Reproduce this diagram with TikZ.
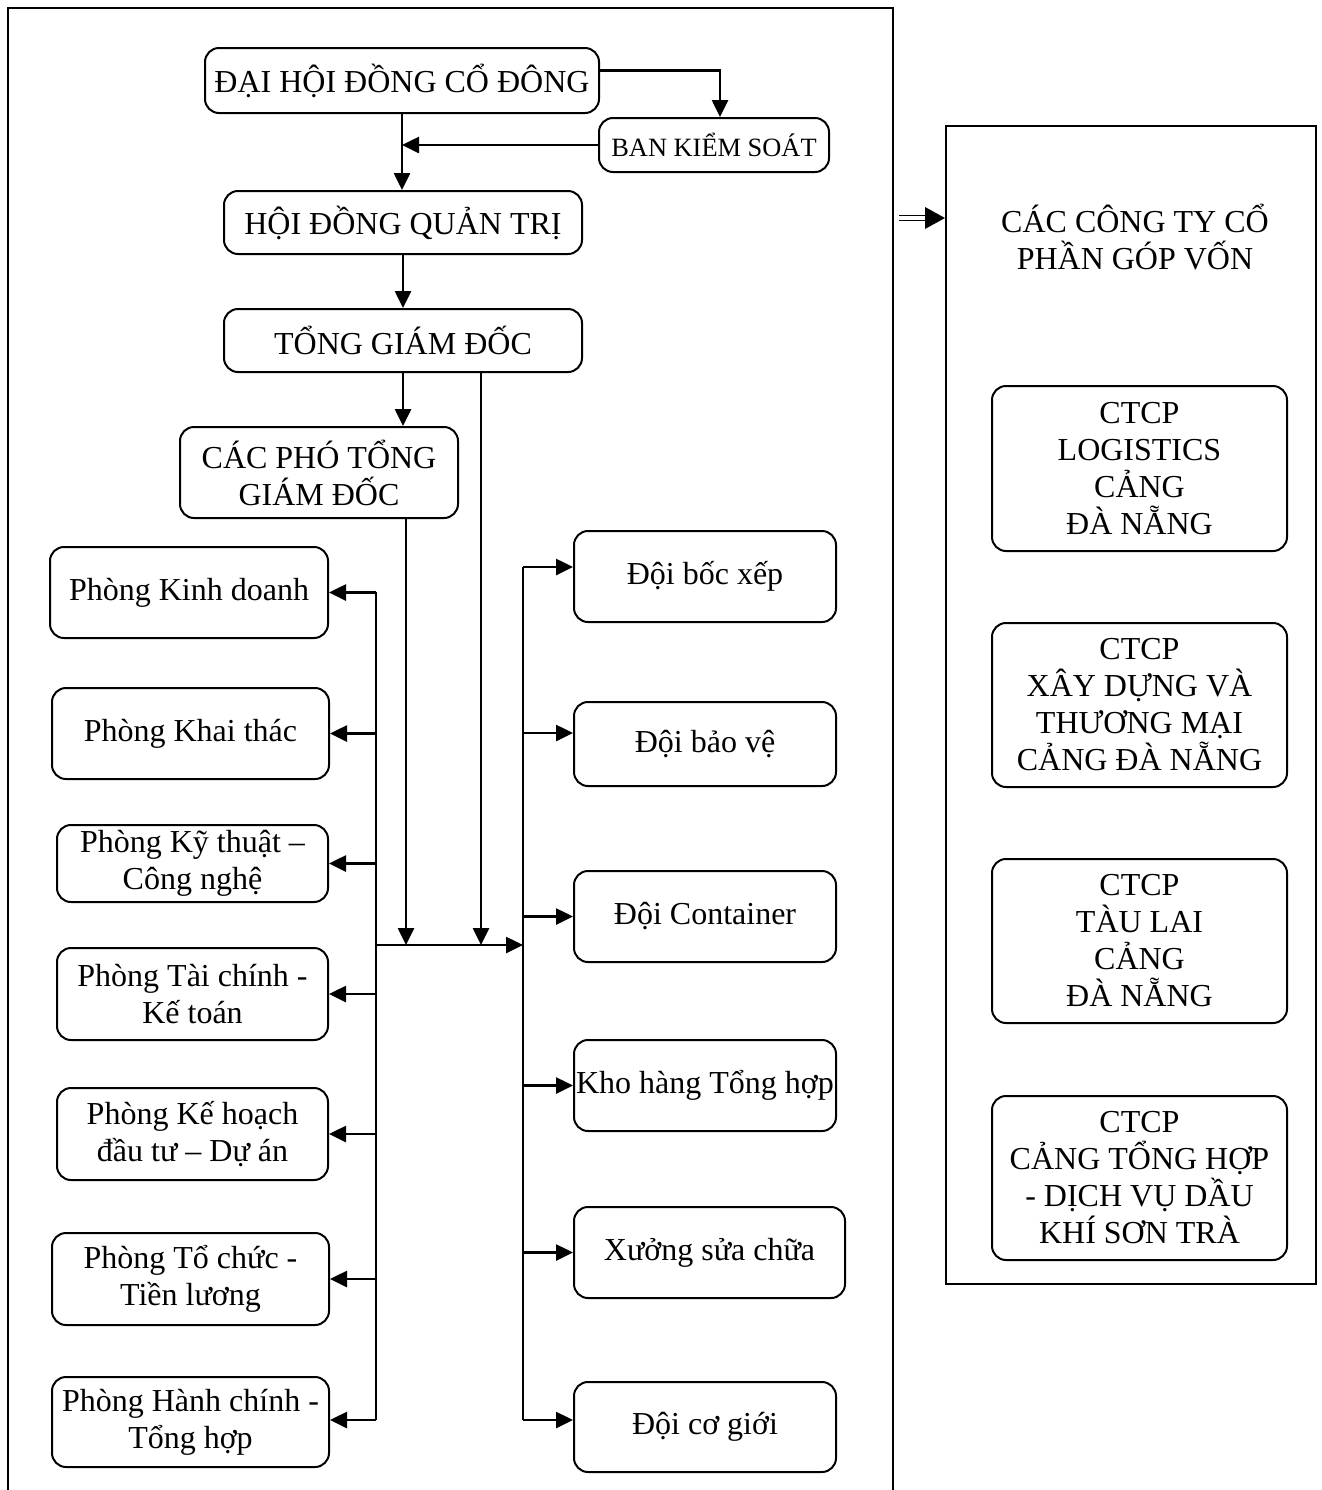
\documentclass[tikz,border=0pt]{standalone}
\usepackage{fontspec}
\setmainfont{Liberation Serif}
\usetikzlibrary{arrows.meta}
\begin{document}
\begin{tikzpicture}[x=0.5pt,y=-0.5pt,
  box/.style={draw, line width=1pt, rounded corners=7pt, inner sep=0pt, align=center,
    font=\fontsize{16}{18.5}\selectfont},
  arr/.style={line width=1.3pt, -{Triangle[length=8.5pt,width=8pt]}},
  ln/.style={line width=1.3pt},
  frame/.style={line width=1pt}]
\useasboundingbox (0,0) rectangle (1322,1490);
% outer left frame
\draw[frame] (8,1490) -- (8,8) -- (893,8) -- (893,1490);
% top chain
\node[box, minimum width=197pt, minimum height=32.5pt] (dh) at (402,80.5) {ĐẠI HỘI ĐỒNG CỔ ĐÔNG};
\node[box, minimum width=115pt, minimum height=27pt, font=\fontsize{13.2}{15}\selectfont] (bks) at (714,145) {BAN KIỂM SOÁT};
\node[box, minimum width=179pt, minimum height=31.5pt] (hd) at (403,222.5) {HỘI ĐỒNG QUẢN TRỊ};
\node[box, minimum width=179pt, minimum height=31.5pt] (tgd) at (403,340.5) {TỔNG GIÁM ĐỐC};
\node[box, minimum width=139pt, minimum height=45.5pt] (pho) at (319,472.5) {CÁC PHÓ TỔNG\\GIÁM ĐỐC};
% left departments
\node[box, minimum width=139pt, minimum height=45.5pt] (p1) at (189,592.5) {Phòng Kinh doanh};
\node[box, minimum width=138.5pt, minimum height=45.5pt] (p2) at (190.5,733.5) {Phòng Khai thác};
\node[box, minimum width=135.5pt, minimum height=38.5pt] (p3) at (192.5,863.5) {Phòng Kỹ thuật –\\Công nghệ};
\node[box, minimum width=135.5pt, minimum height=46pt] (p4) at (192.5,994) {Phòng Tài chính -\\Kế toán};
\node[box, minimum width=135.5pt, minimum height=46pt] (p5) at (192.5,1134) {Phòng Kế hoạch\\đầu tư – Dự án};
\node[box, minimum width=138.5pt, minimum height=46pt] (p6) at (190.5,1279) {Phòng Tổ chức -\\Tiền lương};
\node[box, minimum width=138.5pt, minimum height=45pt] (p7) at (190.5,1422) {Phòng Hành chính -\\Tổng hợp};
% right units
\node[box, minimum width=131pt, minimum height=45.5pt] (d1) at (705,576.5) {Đội bốc xếp};
\node[box, minimum width=131pt, minimum height=42pt] (d2) at (705,744) {Đội bảo vệ};
\node[box, minimum width=131pt, minimum height=45.5pt] (d3) at (705,916.5) {Đội Container};
\node[box, minimum width=131pt, minimum height=45.5pt] (d4) at (705,1085.5) {Kho hàng Tổng hợp};
\node[box, minimum width=135.5pt, minimum height=45.5pt] (d5) at (709.5,1252.5) {Xưởng sửa chữa};
\node[box, minimum width=131pt, minimum height=45pt] (d6) at (705,1427) {Đội cơ giới};
% right frame
\node[draw, frame, minimum width=185pt, minimum height=579pt, inner sep=0pt] (rf) at (1131,705) {};
\node[align=center, font=\fontsize{16}{18.5}\selectfont] (tt) at (1135,237.5) {CÁC CÔNG TY CỔ\\PHẦN GÓP VỐN};
\node[box, minimum width=147.5pt, minimum height=82.5pt] (c1) at (1139.5,468.5) {CTCP\\LOGISTICS\\CẢNG\\ĐÀ NẴNG};
\node[box, minimum width=147.5pt, minimum height=82pt] (c2) at (1139.5,705) {CTCP\\XÂY DỰNG VÀ\\THƯƠNG MẠI\\CẢNG ĐÀ NẴNG};
\node[box, minimum width=147.5pt, minimum height=82pt] (c3) at (1139.5,941) {CTCP\\TÀU LAI\\CẢNG\\ĐÀ NẴNG};
\node[box, minimum width=147.5pt, minimum height=82pt] (c4) at (1139.5,1178) {CTCP\\CẢNG TỔNG HỢP\\- DỊCH VỤ DẦU\\KHÍ SƠN TRÀ};
% coordinates
\coordinate (lv) at (376,592);
\coordinate (lvb) at (376,1420);
\coordinate (rv) at (523,567);
\coordinate (rvb) at (523,1420);
\coordinate (h0) at (376,945);
\coordinate (h1) at (406,945);
\coordinate (h2) at (481,945);
\coordinate (h3) at (523,945);
\coordinate (da) at (899,218);
\coordinate (db) at (925,218);
% top connectors
\draw[arr] ([yshift=5pt]dh.east) -| ([xshift=3pt]bks.north);
\draw[arr] (dh.south) -- (dh.south |- hd.north);
\draw[arr] (bks.west) -- (bks.west -| dh.south);
\draw[arr] (hd.south) -- (tgd.north);
\draw[arr] (tgd.south) -- (tgd.south |- pho.north);
\draw[arr] (pho.south -| h1) -- (h1);
\draw[arr] (tgd.south -| h2) -- (h2);
\draw[arr] (h0) -- (h3);
% bars
\draw[ln] (lv) -- (lvb);
\draw[ln] (rv) -- (rvb);
\foreach \n in {p1,p2,p3,p4,p5,p6} \draw[arr] (lv |- \n.east) -- (\n.east);
\draw[arr] (lv |- lvb) -- (lvb -| p7.east);
\draw[arr] (rv) -- (rv -| d1.west);
\draw[arr] ([yshift=5.5pt]rv |- d2.west) -- ([yshift=5.5pt]d2.west);
\foreach \n in {d3,d4,d5} \draw[arr] (rv |- \n.west) -- (\n.west);
\draw[arr] (rvb) -- (rvb -| d6.west);
% double arrow
\draw[line width=0.7pt] ([yshift=1.3pt]da) -- ([yshift=1.3pt]db);
\draw[line width=0.7pt] ([yshift=-1.3pt]da) -- ([yshift=-1.3pt]db);
\fill ([yshift=5.5pt]db) -- (da -| rf.west) -- ([yshift=-5.5pt]db) -- cycle;
\end{tikzpicture}
\end{document}
